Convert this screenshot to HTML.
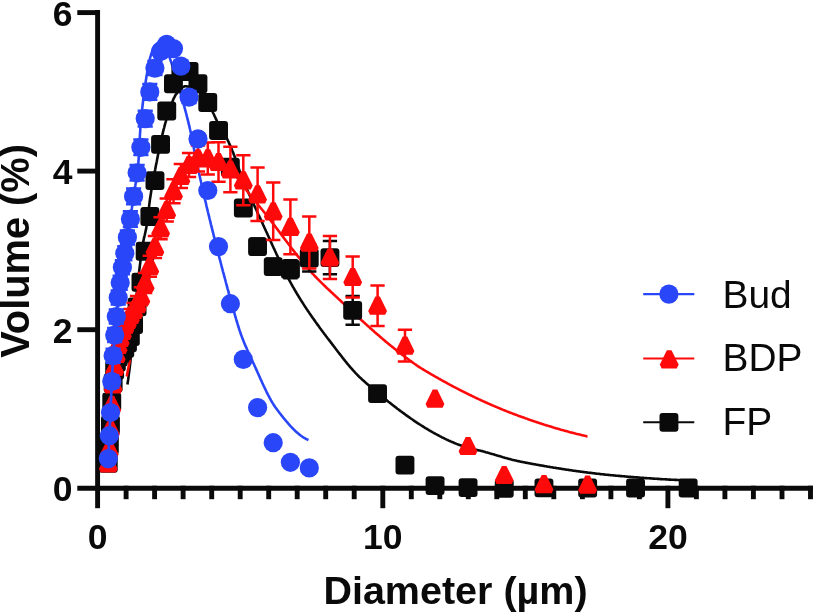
<!DOCTYPE html>
<html><head><meta charset="utf-8"><title>Particle size distribution</title>
<style>
html,body{margin:0;padding:0;background:#fff;}
body{width:813px;height:613px;position:relative;overflow:hidden;font-family:"Liberation Sans",sans-serif;}
</style></head><body>
<svg width="813" height="613" viewBox="0 0 813 613" style="position:absolute;left:0;top:0;will-change:transform;opacity:0.999">
<g stroke="#0a0a0a" stroke-width="4.9" fill="none"><path d="M97.6,10.1V490.7"/><path d="M77.3,488.2H813"/><path d="M77.3,329.7H97.6"/><path d="M77.3,171.1H97.6"/><path d="M77.3,12.6H97.6"/><path d="M97.6,485.75V508.2"/><path d="M126.1,485.75V499.2"/><path d="M154.6,485.75V499.2"/><path d="M183.1,485.75V499.2"/><path d="M211.7,485.75V499.2"/><path d="M240.2,485.75V499.2"/><path d="M268.7,485.75V499.2"/><path d="M297.2,485.75V499.2"/><path d="M325.7,485.75V499.2"/><path d="M354.2,485.75V499.2"/><path d="M382.8,485.75V508.2"/><path d="M411.3,485.75V499.2"/><path d="M439.8,485.75V499.2"/><path d="M468.3,485.75V499.2"/><path d="M496.8,485.75V499.2"/><path d="M525.3,485.75V499.2"/><path d="M553.8,485.75V499.2"/><path d="M582.4,485.75V499.2"/><path d="M610.9,485.75V499.2"/><path d="M639.4,485.75V499.2"/><path d="M667.9,485.75V508.2"/><path d="M696.4,485.75V499.2"/><path d="M724.9,485.75V499.2"/><path d="M753.4,485.75V499.2"/><path d="M782.0,485.75V499.2"/><path d="M810.5,485.75V499.2"/></g>
<path d="M127.4,384.5 L128.2,379.4 L128.9,373.9 L129.7,367.9 L130.4,361.5 L131.2,354.5 L131.9,346.5 L132.7,337.9 L133.4,328.9 L134.2,320.0 L134.9,311.4 L135.7,303.4 L136.4,296.2 L137.2,289.3 L137.9,282.4 L138.7,275.7 L139.4,269.3 L140.2,263.1 L140.9,257.3 L141.7,251.8 L142.4,246.8 L143.2,242.2 L143.9,238.4 L144.7,235.2 L145.4,232.0 L146.2,228.4 L146.9,223.9 L147.7,218.2 L148.4,211.8 L149.2,205.4 L149.9,199.7 L150.7,194.8 L151.4,190.1 L152.2,185.7 L152.9,181.4 L153.7,177.3 L154.4,173.3 L155.2,169.4 L155.9,165.5 L156.7,161.7 L157.4,157.9 L158.2,154.1 L158.9,150.4 L159.7,146.8 L160.4,143.3 L161.2,139.9 L161.9,136.6 L162.7,133.4 L163.4,130.4 L164.2,127.5 L164.9,124.6 L165.7,121.9 L166.4,119.2 L167.2,116.7 L167.9,114.2 L168.7,111.9 L169.4,109.7 L170.2,107.6 L170.9,105.6 L171.7,103.6 L172.4,101.7 L173.2,99.8 L173.9,98.1 L174.7,96.6 L175.4,95.2 L176.2,94.1 L176.9,93.2 L177.7,92.2 L178.4,91.3 L179.2,90.4 L179.9,89.6 L180.7,88.9 L181.4,88.2 L182.2,87.6 L182.9,87.1 L183.7,86.7 L184.4,86.4 L185.2,86.3 L185.9,86.3 L186.7,86.4 L187.4,86.5 L188.2,86.6 L188.9,86.8 L189.7,87.0 L190.4,87.2 L191.2,87.4 L191.9,87.7 L192.7,88.0 L193.4,88.3 L194.2,88.6 L194.9,89.0 L195.7,89.3 L196.4,89.8 L197.2,90.3 L197.9,90.9 L198.7,91.6 L199.4,92.3 L200.2,93.1 L200.9,94.0 L201.7,94.8 L202.4,95.7 L203.2,96.7 L203.9,97.6 L204.7,98.6 L205.4,99.5 L206.2,100.6 L206.9,101.7 L207.7,102.9 L208.4,104.2 L209.2,105.5 L209.9,106.8 L210.7,108.2 L211.4,109.6 L212.2,111.0 L212.9,112.5 L213.7,114.0 L214.4,115.6 L215.2,117.3 L215.9,118.9 L216.7,120.5 L217.4,122.0 L218.2,123.4 L218.9,124.8 L219.7,126.1 L220.4,127.3 L221.2,128.6 L221.9,129.8 L222.7,131.1 L223.4,132.3 L224.2,133.6 L224.9,134.9 L225.7,136.2 L226.4,137.6 L227.2,139.1 L227.9,140.6 L228.7,142.2 L229.4,143.9 L230.2,145.6 L230.9,147.3 L231.7,149.1 L232.4,150.9 L233.2,152.8 L233.9,154.7 L234.7,156.7 L235.4,158.6 L236.2,160.6 L236.9,162.7 L237.7,165.0 L238.4,167.3 L239.2,169.6 L239.9,171.7 L240.7,173.6 L241.4,175.6 L242.2,177.5 L242.9,179.4 L243.7,181.3 L244.4,183.1 L245.2,184.9 L245.9,186.7 L246.7,188.5 L247.4,190.2 L248.2,192.0 L248.9,193.7 L249.7,195.4 L250.4,197.1 L251.2,198.7 L251.9,200.4 L252.7,202.0 L253.4,203.7 L254.2,205.3 L254.9,206.9 L255.7,208.5 L256.4,210.1 L257.1,211.8 L257.9,213.4 L258.6,215.0 L259.4,216.6 L260.1,218.2 L260.9,219.8 L261.6,221.5 L262.4,223.1 L263.1,224.7 L263.9,226.4 L264.6,228.0 L265.4,229.7 L266.1,231.3 L266.9,233.0 L267.6,234.6 L268.4,236.3 L269.1,237.9 L269.9,239.6 L270.6,241.2 L271.4,242.9 L272.1,244.5 L272.9,246.2 L273.6,247.8 L274.4,249.4 L275.1,251.0 L275.9,252.7 L276.6,254.3 L277.4,255.9 L278.1,257.5 L278.9,259.1 L279.6,260.7 L280.4,262.2 L281.1,263.8 L281.9,265.4 L282.6,266.9 L283.4,268.5 L284.1,270.0 L284.9,271.5 L285.6,273.0 L286.4,274.5 L287.1,275.9 L287.9,277.4 L288.6,278.8 L289.4,280.3 L290.1,281.7 L290.9,283.1 L291.6,284.4 L292.4,285.8 L293.1,287.1 L293.9,288.4 L294.6,289.7 L295.4,291.0 L296.1,292.3 L296.9,293.6 L297.6,294.8 L298.4,296.0 L299.1,297.3 L299.9,298.5 L300.6,299.7 L301.4,300.9 L302.1,302.1 L302.9,303.2 L303.6,304.4 L304.4,305.6 L305.1,306.7 L305.9,307.9 L306.6,309.0 L307.4,310.1 L308.1,311.2 L308.9,312.3 L309.6,313.4 L310.4,314.5 L311.1,315.6 L311.9,316.7 L312.6,317.8 L313.4,318.8 L314.1,319.9 L314.9,320.9 L315.6,322.0 L316.4,323.0 L317.1,324.1 L317.9,325.1 L318.6,326.1 L319.4,327.2 L320.1,328.2 L320.9,329.2 L321.6,330.2 L322.4,331.2 L323.1,332.2 L323.9,333.2 L324.6,334.2 L325.4,335.2 L326.1,336.2 L326.9,337.2 L327.6,338.2 L328.4,339.2 L329.1,340.1 L329.9,341.1 L330.6,342.1 L331.4,343.1 L332.1,344.1 L332.9,345.1 L333.6,346.0 L334.4,347.0 L335.1,348.0 L335.9,349.0 L336.6,350.0 L337.4,351.0 L338.1,352.0 L338.9,352.9 L339.6,353.9 L340.4,354.9 L341.1,355.8 L341.9,356.8 L342.6,357.8 L343.4,358.7 L344.1,359.7 L344.9,360.6 L345.6,361.5 L346.4,362.4 L347.1,363.4 L347.9,364.3 L348.6,365.2 L349.4,366.1 L350.1,367.0 L350.9,367.8 L351.6,368.7 L352.4,369.5 L353.1,370.4 L353.9,371.2 L354.6,372.0 L355.4,372.9 L356.1,373.6 L356.9,374.4 L357.6,375.2 L358.4,376.0 L359.1,376.7 L359.9,377.4 L360.6,378.1 L361.4,378.8 L362.1,379.5 L362.9,380.2 L363.6,380.8 L364.4,381.5 L365.1,382.2 L365.9,382.8 L366.6,383.5 L367.4,384.1 L368.1,384.8 L368.9,385.4 L369.6,386.1 L370.4,386.7 L371.1,387.3 L371.9,388.0 L372.6,388.6 L373.4,389.3 L374.1,389.9 L374.9,390.5 L375.6,391.2 L376.4,391.8 L377.1,392.4 L377.9,393.1 L378.6,393.7 L379.4,394.3 L380.1,394.9 L380.9,395.6 L381.6,396.2 L382.4,396.8 L383.1,397.4 L383.9,398.0 L384.6,398.6 L385.4,399.2 L386.1,399.8 L386.9,400.4 L387.6,401.1 L388.4,401.7 L389.1,402.2 L389.9,402.8 L390.6,403.4 L391.4,404.0 L392.1,404.6 L392.9,405.2 L393.6,405.8 L394.4,406.4 L395.1,406.9 L395.9,407.5 L396.6,408.1 L397.4,408.7 L398.1,409.2 L398.9,409.8 L399.6,410.4 L400.4,410.9 L401.1,411.5 L401.9,412.0 L402.6,412.6 L403.4,413.1 L404.1,413.7 L404.9,414.2 L405.6,414.8 L406.4,415.3 L407.1,415.9 L407.9,416.4 L408.6,416.9 L409.4,417.4 L410.1,418.0 L410.9,418.5 L411.6,419.0 L412.4,419.5 L413.1,420.0 L413.9,420.6 L414.6,421.1 L415.4,421.6 L416.1,422.1 L416.9,422.6 L417.6,423.1 L418.4,423.6 L419.1,424.0 L419.9,424.5 L420.6,425.0 L421.4,425.5 L422.1,426.0 L422.9,426.4 L423.6,426.9 L424.4,427.4 L425.1,427.8 L425.9,428.3 L426.6,428.7 L427.4,429.2 L428.1,429.6 L428.9,430.1 L429.6,430.5 L430.4,431.0 L431.1,431.4 L431.9,431.8 L432.6,432.3 L433.4,432.7 L434.1,433.1 L434.9,433.5 L435.6,433.9 L436.4,434.3 L437.1,434.7 L437.9,435.1 L438.6,435.5 L439.4,435.9 L440.1,436.3 L440.9,436.7 L441.6,437.1 L442.4,437.5 L443.1,437.8 L443.9,438.2 L444.6,438.6 L445.4,438.9 L446.1,439.3 L446.9,439.7 L447.6,440.0 L448.4,440.4 L449.1,440.7 L449.9,441.0 L450.6,441.4 L451.4,441.7 L452.1,442.0 L452.9,442.3 L453.6,442.6 L454.4,443.0 L455.1,443.3 L455.9,443.6 L456.6,443.9 L457.4,444.2 L458.1,444.5 L458.9,444.7 L459.6,445.0 L460.4,445.3 L461.1,445.6 L461.9,445.8 L462.6,446.1 L463.4,446.4 L464.1,446.6 L464.9,446.9 L465.6,447.1 L466.4,447.3 L467.1,447.6 L467.9,447.8 L468.6,448.0 L469.4,448.2 L470.1,448.4 L470.9,448.6 L471.6,448.8 L472.4,449.0 L473.1,449.1 L473.9,449.3 L474.6,449.4 L475.4,449.6 L476.1,449.7 L476.9,449.9 L477.6,450.1 L478.4,450.2 L479.1,450.4 L479.9,450.6 L480.6,450.8 L481.4,451.0 L482.1,451.1 L482.9,451.3 L483.6,451.5 L484.4,451.7 L485.1,451.9 L485.9,452.2 L486.6,452.4 L487.4,452.6 L488.1,452.8 L488.9,453.0 L489.6,453.2 L490.4,453.4 L491.1,453.7 L491.9,453.9 L492.6,454.1 L493.4,454.3 L494.1,454.5 L494.9,454.8 L495.6,455.0 L496.4,455.2 L497.1,455.4 L497.9,455.7 L498.6,455.9 L499.4,456.1 L500.1,456.3 L500.9,456.6 L501.6,456.8 L502.4,457.0 L503.1,457.2 L503.9,457.4 L504.6,457.7 L505.4,457.9 L506.1,458.1 L506.9,458.3 L507.6,458.5 L508.4,458.7 L509.1,458.9 L509.9,459.1 L510.6,459.3 L511.4,459.5 L512.1,459.7 L512.9,459.9 L513.6,460.1 L514.4,460.3 L515.1,460.4 L515.9,460.6 L516.6,460.8 L517.4,461.0 L518.1,461.1 L518.9,461.3 L519.6,461.4 L520.4,461.6 L521.1,461.7 L521.9,461.9 L522.6,462.0 L523.4,462.2 L524.1,462.3 L524.9,462.5 L525.6,462.6 L526.4,462.7 L527.1,462.9 L527.9,463.0 L528.6,463.2 L529.4,463.3 L530.1,463.5 L530.9,463.6 L531.6,463.7 L532.4,463.9 L533.1,464.0 L533.9,464.2 L534.6,464.3 L535.4,464.4 L536.1,464.6 L536.9,464.7 L537.6,464.8 L538.4,465.0 L539.1,465.1 L539.9,465.2 L540.6,465.4 L541.4,465.5 L542.1,465.6 L542.9,465.8 L543.6,465.9 L544.4,466.0 L545.1,466.2 L545.9,466.3 L546.6,466.4 L547.4,466.6 L548.1,466.7 L548.9,466.8 L549.6,466.9 L550.4,467.1 L551.1,467.2 L551.9,467.3 L552.6,467.4 L553.4,467.6 L554.1,467.7 L554.9,467.8 L555.6,467.9 L556.4,468.0 L557.1,468.2 L557.9,468.3 L558.6,468.4 L559.4,468.5 L560.1,468.6 L560.9,468.8 L561.6,468.9 L562.4,469.0 L563.1,469.1 L563.9,469.2 L564.6,469.3 L565.4,469.5 L566.1,469.6 L566.9,469.7 L567.6,469.8 L568.4,469.9 L569.1,470.0 L569.9,470.1 L570.6,470.2 L571.4,470.3 L572.1,470.5 L572.9,470.6 L573.6,470.7 L574.4,470.8 L575.1,470.9 L575.9,471.0 L576.6,471.1 L577.4,471.2 L578.1,471.3 L578.9,471.4 L579.6,471.5 L580.4,471.6 L581.1,471.7 L581.9,471.8 L582.6,471.9 L583.4,472.0 L584.1,472.1 L584.9,472.2 L585.6,472.3 L586.4,472.4 L587.1,472.5 L587.9,472.6 L588.6,472.7 L589.4,472.8 L590.1,472.9 L590.9,472.9 L591.6,473.0 L592.4,473.1 L593.1,473.2 L593.9,473.3 L594.6,473.4 L595.4,473.5 L596.1,473.6 L596.9,473.7 L597.6,473.7 L598.4,473.8 L599.1,473.9 L599.9,474.0 L600.6,474.1 L601.4,474.2 L602.1,474.3 L602.9,474.3 L603.6,474.4 L604.4,474.5 L605.1,474.6 L605.9,474.7 L606.6,474.7 L607.4,474.8 L608.1,474.9 L608.9,475.0 L609.6,475.0 L610.4,475.1 L611.1,475.2 L611.9,475.3 L612.6,475.3 L613.4,475.4 L614.1,475.5 L614.9,475.5 L615.6,475.6 L616.4,475.7 L617.1,475.7 L617.9,475.8 L618.6,475.9 L619.4,475.9 L620.1,476.0 L620.9,476.1 L621.6,476.1 L622.4,476.2 L623.1,476.3 L623.9,476.3 L624.6,476.4 L625.4,476.5 L626.1,476.5 L626.9,476.6 L627.6,476.7 L628.4,476.7 L629.1,476.8 L629.9,476.8 L630.6,476.9 L631.4,477.0 L632.1,477.0 L632.9,477.1 L633.6,477.1 L634.4,477.2 L635.1,477.3 L635.9,477.3 L636.6,477.4 L637.4,477.4 L638.1,477.5 L638.9,477.6 L639.6,477.6 L640.4,477.7 L641.1,477.7 L641.9,477.8 L642.6,477.8 L643.4,477.9 L644.1,478.0 L644.9,478.0 L645.6,478.1 L646.4,478.1 L647.1,478.2 L647.9,478.2 L648.6,478.3 L649.4,478.3 L650.1,478.4 L650.9,478.4 L651.6,478.5 L652.4,478.5 L653.1,478.6 L653.9,478.6 L654.6,478.7 L655.4,478.7 L656.1,478.8 L656.9,478.8 L657.6,478.9 L658.4,478.9 L659.1,479.0 L659.9,479.0 L660.6,479.1 L661.4,479.1 L662.1,479.2 L662.9,479.2 L663.6,479.3 L664.4,479.3 L665.1,479.3 L665.9,479.4 L666.6,479.4 L667.4,479.5 L668.1,479.5 L668.9,479.6 L669.6,479.6 L670.4,479.6 L671.1,479.7 L671.9,479.7 L672.6,479.7 L673.4,479.8 L674.1,479.8 L674.9,479.9 L675.6,479.9 L676.4,479.9 L677.1,480.0 L677.9,480.0 L678.6,480.0 L679.4,480.1 L680.1,480.1 L680.9,480.1 L681.6,480.2 L682.4,480.2 L683.1,480.2 L683.9,480.2 L684.6,480.3 L685.4,480.3 L686.1,480.3 L686.9,480.3 L687.6,480.4 L688.4,480.4 L688.7,480.4" fill="none" stroke="#0a0a0a" stroke-width="2.6" stroke-linejoin="round"/>
<path d="M126.8,376.5 L127.5,372.3 L128.3,368.2 L129.1,364.1 L129.8,360.2 L130.6,356.4 L131.3,352.7 L132.1,349.0 L132.8,345.4 L133.6,341.9 L134.3,338.3 L135.1,334.8 L135.8,331.2 L136.6,327.6 L137.3,324.1 L138.1,320.5 L138.8,317.0 L139.6,313.6 L140.3,310.1 L141.1,306.8 L141.8,303.5 L142.6,300.2 L143.3,296.9 L144.1,293.7 L144.8,290.5 L145.6,287.3 L146.3,284.2 L147.1,281.1 L147.8,277.9 L148.6,274.8 L149.3,271.7 L150.1,268.5 L150.8,265.4 L151.6,262.2 L152.3,259.0 L153.1,255.9 L153.8,252.9 L154.6,250.0 L155.3,247.1 L156.1,244.4 L156.8,241.6 L157.6,239.0 L158.3,236.4 L159.1,233.8 L159.8,231.3 L160.6,228.8 L161.3,226.4 L162.1,223.9 L162.8,221.5 L163.6,219.2 L164.3,216.8 L165.1,214.6 L165.8,212.3 L166.6,210.1 L167.3,208.0 L168.1,205.9 L168.8,203.8 L169.6,201.7 L170.3,199.7 L171.1,197.8 L171.8,195.8 L172.6,194.0 L173.3,192.2 L174.1,190.5 L174.8,188.8 L175.6,187.2 L176.3,185.6 L177.1,184.0 L177.8,182.5 L178.6,181.0 L179.3,179.6 L180.1,178.3 L180.8,177.0 L181.6,175.8 L182.3,174.6 L183.1,173.4 L183.8,172.3 L184.6,171.2 L185.3,170.2 L186.1,169.2 L186.8,168.3 L187.6,167.4 L188.3,166.6 L189.1,165.9 L189.8,165.1 L190.6,164.4 L191.3,163.8 L192.1,163.1 L192.8,162.5 L193.6,161.9 L194.3,161.3 L195.1,160.8 L195.8,160.4 L196.6,160.0 L197.3,159.7 L198.1,159.5 L198.8,159.3 L199.6,159.1 L200.3,158.9 L201.1,158.8 L201.8,158.6 L202.6,158.5 L203.3,158.4 L204.1,158.3 L204.8,158.2 L205.6,158.1 L206.3,158.0 L207.1,158.0 L207.8,158.0 L208.6,158.0 L209.3,158.1 L210.1,158.3 L210.8,158.4 L211.6,158.6 L212.3,158.9 L213.1,159.2 L213.8,159.4 L214.6,159.8 L215.3,160.1 L216.1,160.4 L216.8,160.8 L217.6,161.1 L218.3,161.5 L219.1,161.8 L219.8,162.2 L220.6,162.6 L221.3,163.0 L222.1,163.5 L222.8,164.0 L223.6,164.5 L224.3,165.0 L225.1,165.6 L225.8,166.2 L226.6,166.8 L227.3,167.4 L228.1,168.0 L228.8,168.7 L229.6,169.3 L230.3,170.0 L231.1,170.7 L231.8,171.4 L232.6,172.2 L233.3,173.0 L234.1,173.9 L234.8,174.8 L235.6,175.7 L236.3,176.7 L237.1,177.6 L237.8,178.6 L238.6,179.6 L239.3,180.6 L240.1,181.6 L240.8,182.7 L241.6,183.7 L242.3,184.7 L243.1,185.8 L243.8,186.8 L244.6,187.8 L245.3,188.8 L246.1,189.8 L246.8,190.7 L247.6,191.7 L248.3,192.6 L249.1,193.5 L249.8,194.5 L250.6,195.4 L251.3,196.3 L252.1,197.3 L252.8,198.2 L253.6,199.1 L254.3,200.0 L255.1,201.0 L255.8,201.9 L256.6,202.8 L257.3,203.7 L258.1,204.7 L258.8,205.6 L259.6,206.5 L260.3,207.5 L261.1,208.4 L261.8,209.3 L262.6,210.3 L263.3,211.2 L264.1,212.1 L264.8,213.1 L265.6,214.0 L266.3,215.0 L267.1,215.9 L267.8,216.9 L268.6,217.8 L269.3,218.8 L270.1,219.8 L270.8,220.7 L271.6,221.7 L272.3,222.7 L273.1,223.7 L273.8,224.6 L274.6,225.6 L275.3,226.6 L276.1,227.6 L276.8,228.6 L277.6,229.6 L278.3,230.6 L279.1,231.6 L279.8,232.6 L280.6,233.6 L281.3,234.6 L282.1,235.6 L282.8,236.6 L283.6,237.6 L284.3,238.6 L285.1,239.6 L285.8,240.6 L286.6,241.5 L287.3,242.5 L288.1,243.5 L288.8,244.5 L289.6,245.5 L290.3,246.5 L291.1,247.5 L291.8,248.5 L292.6,249.4 L293.3,250.4 L294.1,251.4 L294.8,252.3 L295.6,253.3 L296.3,254.3 L297.1,255.2 L297.8,256.2 L298.6,257.1 L299.3,258.0 L300.1,259.0 L300.8,259.9 L301.6,260.8 L302.3,261.8 L303.1,262.7 L303.8,263.6 L304.6,264.5 L305.3,265.4 L306.1,266.2 L306.8,267.1 L307.6,268.0 L308.3,268.9 L309.1,269.7 L309.8,270.6 L310.6,271.4 L311.3,272.2 L312.1,273.1 L312.8,273.9 L313.6,274.7 L314.3,275.5 L315.1,276.3 L315.8,277.1 L316.6,277.8 L317.3,278.6 L318.1,279.4 L318.8,280.1 L319.6,280.9 L320.3,281.6 L321.1,282.4 L321.8,283.1 L322.6,283.9 L323.3,284.6 L324.1,285.3 L324.8,286.1 L325.6,286.8 L326.3,287.5 L327.1,288.2 L327.8,288.9 L328.6,289.6 L329.3,290.3 L330.1,291.0 L330.8,291.7 L331.6,292.4 L332.3,293.1 L333.1,293.8 L333.8,294.5 L334.6,295.2 L335.3,295.9 L336.1,296.6 L336.8,297.3 L337.6,298.0 L338.3,298.7 L339.1,299.4 L339.8,300.1 L340.6,300.8 L341.3,301.5 L342.1,302.2 L342.8,302.9 L343.6,303.6 L344.3,304.3 L345.1,305.0 L345.8,305.7 L346.6,306.4 L347.3,307.1 L348.1,307.8 L348.8,308.5 L349.6,309.2 L350.3,309.9 L351.1,310.6 L351.8,311.3 L352.6,312.0 L353.3,312.7 L354.1,313.4 L354.8,314.1 L355.6,314.7 L356.3,315.4 L357.1,316.1 L357.8,316.8 L358.6,317.5 L359.3,318.2 L360.1,318.9 L360.8,319.6 L361.6,320.3 L362.3,320.9 L363.1,321.6 L363.8,322.3 L364.6,323.0 L365.3,323.7 L366.1,324.3 L366.8,325.0 L367.6,325.7 L368.3,326.4 L369.1,327.0 L369.8,327.7 L370.6,328.4 L371.3,329.0 L372.1,329.7 L372.8,330.4 L373.6,331.0 L374.3,331.7 L375.1,332.4 L375.8,333.0 L376.6,333.7 L377.3,334.3 L378.1,335.0 L378.8,335.6 L379.6,336.3 L380.3,336.9 L381.1,337.6 L381.8,338.2 L382.6,338.8 L383.3,339.5 L384.1,340.1 L384.8,340.7 L385.6,341.4 L386.3,342.0 L387.1,342.6 L387.8,343.3 L388.6,343.9 L389.3,344.5 L390.1,345.1 L390.8,345.7 L391.6,346.3 L392.3,346.9 L393.1,347.5 L393.8,348.1 L394.6,348.7 L395.3,349.3 L396.1,349.9 L396.8,350.5 L397.6,351.1 L398.3,351.7 L399.1,352.3 L399.8,352.9 L400.6,353.4 L401.3,354.0 L402.1,354.6 L402.8,355.2 L403.6,355.7 L404.3,356.3 L405.1,356.9 L405.8,357.5 L406.6,358.0 L407.3,358.6 L408.1,359.1 L408.8,359.7 L409.6,360.3 L410.3,360.8 L411.1,361.4 L411.8,361.9 L412.6,362.4 L413.3,363.0 L414.1,363.5 L414.8,364.0 L415.6,364.5 L416.3,365.1 L417.1,365.6 L417.8,366.1 L418.6,366.6 L419.3,367.1 L420.1,367.5 L420.8,368.0 L421.6,368.5 L422.3,369.0 L423.1,369.4 L423.8,369.9 L424.6,370.3 L425.3,370.8 L426.1,371.2 L426.8,371.7 L427.6,372.1 L428.3,372.5 L429.1,373.0 L429.8,373.4 L430.6,373.9 L431.3,374.3 L432.1,374.7 L432.8,375.2 L433.6,375.6 L434.3,376.0 L435.1,376.5 L435.8,376.9 L436.6,377.3 L437.3,377.7 L438.1,378.2 L438.8,378.6 L439.6,379.0 L440.3,379.4 L441.1,379.8 L441.8,380.3 L442.6,380.7 L443.3,381.1 L444.1,381.5 L444.8,381.9 L445.6,382.3 L446.3,382.7 L447.1,383.2 L447.8,383.6 L448.6,384.0 L449.3,384.4 L450.1,384.8 L450.8,385.2 L451.6,385.6 L452.3,386.0 L453.1,386.4 L453.8,386.8 L454.6,387.2 L455.3,387.6 L456.1,387.9 L456.8,388.3 L457.6,388.7 L458.3,389.1 L459.1,389.5 L459.8,389.9 L460.6,390.3 L461.3,390.7 L462.1,391.0 L462.8,391.4 L463.6,391.8 L464.3,392.2 L465.1,392.5 L465.8,392.9 L466.6,393.3 L467.3,393.7 L468.1,394.0 L468.8,394.4 L469.6,394.8 L470.3,395.1 L471.1,395.5 L471.8,395.9 L472.6,396.2 L473.3,396.6 L474.1,396.9 L474.8,397.3 L475.6,397.7 L476.3,398.0 L477.1,398.4 L477.8,398.7 L478.6,399.1 L479.3,399.4 L480.1,399.8 L480.8,400.1 L481.6,400.5 L482.3,400.8 L483.1,401.2 L483.8,401.5 L484.6,401.8 L485.3,402.2 L486.1,402.5 L486.8,402.8 L487.6,403.2 L488.3,403.5 L489.1,403.8 L489.8,404.2 L490.6,404.5 L491.3,404.8 L492.1,405.2 L492.8,405.5 L493.6,405.8 L494.3,406.1 L495.1,406.4 L495.8,406.8 L496.6,407.1 L497.3,407.4 L498.1,407.7 L498.8,408.0 L499.6,408.3 L500.3,408.7 L501.1,409.0 L501.8,409.3 L502.6,409.6 L503.3,409.9 L504.1,410.2 L504.8,410.5 L505.6,410.8 L506.3,411.1 L507.1,411.4 L507.8,411.7 L508.6,412.0 L509.3,412.3 L510.1,412.6 L510.8,412.9 L511.6,413.1 L512.3,413.4 L513.0,413.7 L513.8,414.0 L514.5,414.3 L515.3,414.6 L516.0,414.8 L516.8,415.1 L517.5,415.4 L518.3,415.7 L519.0,416.0 L519.8,416.2 L520.5,416.5 L521.3,416.8 L522.0,417.0 L522.8,417.3 L523.5,417.6 L524.3,417.8 L525.0,418.1 L525.8,418.4 L526.5,418.6 L527.3,418.9 L528.0,419.2 L528.8,419.4 L529.5,419.7 L530.3,420.0 L531.0,420.2 L531.8,420.5 L532.5,420.7 L533.3,421.0 L534.0,421.2 L534.8,421.5 L535.5,421.7 L536.3,422.0 L537.0,422.2 L537.8,422.5 L538.5,422.7 L539.3,423.0 L540.0,423.2 L540.8,423.5 L541.5,423.7 L542.3,424.0 L543.0,424.2 L543.8,424.5 L544.5,424.7 L545.3,424.9 L546.0,425.2 L546.8,425.4 L547.5,425.6 L548.3,425.9 L549.0,426.1 L549.8,426.3 L550.5,426.6 L551.3,426.8 L552.0,427.0 L552.8,427.3 L553.5,427.5 L554.3,427.7 L555.0,427.9 L555.8,428.2 L556.5,428.4 L557.3,428.6 L558.0,428.8 L558.8,429.0 L559.5,429.3 L560.3,429.5 L561.0,429.7 L561.8,429.9 L562.5,430.1 L563.3,430.3 L564.0,430.5 L564.8,430.7 L565.5,430.9 L566.3,431.1 L567.0,431.3 L567.8,431.6 L568.5,431.8 L569.3,432.0 L570.0,432.2 L570.8,432.4 L571.5,432.5 L572.3,432.7 L573.0,432.9 L573.8,433.1 L574.5,433.3 L575.3,433.5 L576.0,433.7 L576.8,433.9 L577.5,434.1 L578.3,434.3 L579.0,434.4 L579.8,434.6 L580.5,434.8 L581.3,435.0 L582.0,435.2 L582.8,435.3 L583.5,435.5 L584.3,435.7 L585.0,435.8 L585.8,436.0 L586.5,436.2 L587.3,436.4 L587.5,436.4" fill="none" stroke="#ff0a0a" stroke-width="2.6" stroke-linejoin="round"/>
<path d="M108.3,458.6 L109.0,442.0 L109.8,426.6 L110.5,411.2 L111.3,392.3 L112.0,375.4 L112.8,361.3 L113.5,349.5 L114.3,339.5 L115.0,330.5 L115.8,322.2 L116.5,314.2 L117.3,305.9 L118.0,298.4 L118.8,292.3 L119.5,287.0 L120.3,281.7 L121.0,276.3 L121.8,271.0 L122.5,266.1 L123.3,261.6 L124.0,257.4 L124.8,253.2 L125.5,248.8 L126.3,244.3 L127.0,239.8 L127.8,235.3 L128.5,230.6 L129.3,225.9 L130.0,221.1 L130.8,216.1 L131.5,210.9 L132.3,205.5 L133.0,200.1 L133.8,194.8 L134.5,190.1 L135.3,185.8 L136.0,181.4 L136.8,176.6 L137.5,170.9 L138.3,163.9 L139.0,153.6 L139.8,137.2 L140.5,126.5 L141.3,117.8 L142.0,110.3 L142.8,103.5 L143.5,97.1 L144.3,91.3 L145.0,85.9 L145.8,81.0 L146.5,76.4 L147.3,72.0 L148.0,67.8 L148.8,63.9 L149.5,60.4 L150.3,57.3 L151.0,54.8 L151.8,52.5 L152.5,50.3 L153.3,48.4 L154.0,46.9 L154.8,45.7 L155.5,44.9 L156.3,44.2 L157.0,43.6 L157.8,43.0 L158.5,42.7 L159.3,42.5 L160.0,42.6 L160.8,42.8 L161.5,43.3 L162.3,43.8 L163.0,44.5 L163.8,45.3 L164.5,46.1 L165.3,47.1 L166.0,48.4 L166.8,50.1 L167.5,52.0 L168.3,54.0 L169.0,56.1 L169.8,58.1 L170.5,60.2 L171.3,62.3 L172.0,64.5 L172.8,66.8 L173.5,69.2 L174.3,71.7 L175.0,74.2 L175.8,76.7 L176.5,79.2 L177.3,81.7 L178.0,84.2 L178.8,86.7 L179.5,89.3 L180.3,91.9 L181.0,94.6 L181.8,97.3 L182.5,100.0 L183.3,102.8 L184.0,105.5 L184.8,108.4 L185.5,111.2 L186.3,114.0 L187.0,116.9 L187.8,119.9 L188.5,122.9 L189.3,126.1 L190.0,129.3 L190.8,132.6 L191.5,136.2 L192.3,140.1 L193.0,144.1 L193.8,148.0 L194.5,151.7 L195.3,155.4 L196.0,159.0 L196.8,162.5 L197.5,166.1 L198.3,169.6 L199.0,173.0 L199.8,176.4 L200.5,179.8 L201.3,183.2 L202.0,186.5 L202.8,189.9 L203.5,193.1 L204.3,196.4 L205.0,199.6 L205.8,202.8 L206.5,206.0 L207.3,209.2 L208.0,212.3 L208.8,215.4 L209.5,218.5 L210.3,221.5 L211.0,224.6 L211.8,227.6 L212.5,230.7 L213.3,233.7 L214.0,236.7 L214.8,239.7 L215.5,242.6 L216.3,245.6 L217.0,248.5 L217.8,251.5 L218.5,254.4 L219.3,257.3 L220.0,260.2 L220.8,263.0 L221.5,265.9 L222.3,268.8 L223.0,271.6 L223.8,274.4 L224.5,277.2 L225.3,280.0 L226.0,282.8 L226.8,285.6 L227.5,288.3 L228.3,291.1 L229.0,293.8 L229.8,296.5 L230.5,299.3 L231.3,302.0 L232.0,304.7 L232.8,307.4 L233.5,310.1 L234.3,312.7 L235.0,315.4 L235.8,318.0 L236.5,320.5 L237.3,323.0 L238.0,325.5 L238.8,327.8 L239.5,330.1 L240.3,332.4 L241.0,334.5 L241.8,336.6 L242.5,338.6 L243.3,340.5 L244.0,342.4 L244.8,344.2 L245.5,345.9 L246.3,347.6 L247.0,349.3 L247.8,351.0 L248.5,352.6 L249.3,354.3 L250.0,355.9 L250.8,357.5 L251.5,359.1 L252.3,360.7 L253.0,362.3 L253.8,364.0 L254.5,365.6 L255.3,367.3 L256.0,368.9 L256.8,370.6 L257.5,372.3 L258.3,374.0 L259.0,375.6 L259.8,377.3 L260.5,379.0 L261.3,380.6 L262.0,382.3 L262.8,383.9 L263.5,385.5 L264.3,387.1 L265.0,388.7 L265.8,390.2 L266.5,391.8 L267.3,393.3 L268.0,394.8 L268.8,396.2 L269.5,397.6 L270.3,399.0 L271.0,400.4 L271.8,401.7 L272.5,402.9 L273.3,404.1 L274.0,405.3 L274.8,406.4 L275.5,407.5 L276.3,408.5 L277.0,409.5 L277.8,410.5 L278.5,411.5 L279.3,412.5 L280.0,413.5 L280.8,414.4 L281.5,415.4 L282.3,416.3 L283.0,417.3 L283.8,418.2 L284.5,419.1 L285.3,420.0 L286.0,420.9 L286.8,421.8 L287.5,422.7 L288.3,423.6 L289.0,424.4 L289.8,425.3 L290.5,426.1 L291.3,426.9 L292.0,427.7 L292.8,428.4 L293.5,429.2 L294.3,429.9 L295.0,430.7 L295.8,431.4 L296.5,432.1 L297.3,432.7 L298.0,433.4 L298.8,434.0 L299.5,434.6 L300.3,435.2 L301.0,435.7 L301.8,436.3 L302.5,436.8 L303.3,437.3 L304.0,437.8 L304.8,438.2 L305.5,438.6 L306.3,439.0 L307.0,439.4 L307.8,439.7 L308.5,440.0" fill="none" stroke="#2947f8" stroke-width="2.6" stroke-linejoin="round"/>
<path d="M113.1,376.0V390.0M106.0,376.0h14.3M106.0,390.0h14.3M114.7,363.0V377.0M107.5,363.0h14.3M107.5,377.0h14.3M116.3,355.0V369.0M109.2,355.0h14.3M109.2,369.0h14.3M118.2,350.0V364.0M111.0,350.0h14.3M111.0,364.0h14.3M120.2,346.5V360.5M113.0,346.5h14.3M113.0,360.5h14.3M122.4,343.8V357.8M115.2,343.8h14.3M115.2,357.8h14.3M124.8,341.3V355.3M117.6,341.3h14.3M117.6,355.3h14.3M127.4,335.9V349.9M120.3,335.9h14.3M120.3,349.9h14.3M130.4,330.5V342.5M123.2,330.5h14.3M123.2,342.5h14.3M133.6,319.7V329.7M126.4,319.7h14.3M126.4,329.7h14.3M137.1,302.9V310.9M129.9,302.9h14.3M129.9,310.9h14.3M140.9,279.2V285.2M133.8,279.2h14.3M133.8,285.2h14.3M145.2,248.2V254.2M138.0,248.2h14.3M138.0,254.2h14.3M149.8,212.5V220.5M142.7,212.5h14.3M142.7,220.5h14.3M154.9,176.6V184.6M147.8,176.6h14.3M147.8,184.6h14.3M160.6,140.3V148.3M153.4,140.3h14.3M153.4,148.3h14.3M166.7,107.1V115.1M159.6,107.1h14.3M159.6,115.1h14.3M173.5,79.8V87.8M166.3,79.8h14.3M166.3,87.8h14.3M180.9,67.5V75.5M173.7,67.5h14.3M173.7,75.5h14.3M189.0,67.5V75.5M181.9,67.5h14.3M181.9,75.5h14.3M198.0,79.8V87.8M190.8,79.8h14.3M190.8,87.8h14.3M207.8,98.4V106.4M200.6,98.4h14.3M200.6,106.4h14.3M218.5,125.6V135.6M211.4,125.6h14.3M211.4,135.6h14.3M230.4,161.2V173.2M223.2,161.2h14.3M223.2,173.2h14.3M243.3,201.0V215.0M236.2,201.0h14.3M236.2,215.0h14.3M257.6,238.6V254.6M250.4,238.6h14.3M250.4,254.6h14.3M273.2,258.7V274.7M266.1,258.7h14.3M266.1,274.7h14.3M290.4,260.2V278.2M283.3,260.2h14.3M283.3,278.2h14.3M309.3,244.4V271.6M302.1,244.4h14.3M302.1,271.6h14.3M329.9,240.9V274.3M322.8,240.9h14.3M322.8,274.3h14.3M352.7,296.0V324.8M345.5,296.0h14.3M345.5,324.8h14.3M377.6,387.6V399.6M370.4,387.6h14.3M370.4,399.6h14.3M405.0,462.1V468.1M397.8,462.1h14.3M397.8,468.1h14.3" fill="none" stroke="#0a0a0a" stroke-width="2.5"/>
<rect x="98.8" y="453.9" width="18.9" height="18.9" rx="3" fill="#0a0a0a"/><rect x="99.9" y="435.6" width="18.9" height="18.9" rx="3" fill="#0a0a0a"/><rect x="101.0" y="415.6" width="18.9" height="18.9" rx="3" fill="#0a0a0a"/><rect x="102.3" y="392.6" width="18.9" height="18.9" rx="3" fill="#0a0a0a"/><rect x="103.7" y="373.6" width="18.9" height="18.9" rx="3" fill="#0a0a0a"/><rect x="105.2" y="360.6" width="18.9" height="18.9" rx="3" fill="#0a0a0a"/><rect x="106.9" y="352.6" width="18.9" height="18.9" rx="3" fill="#0a0a0a"/><rect x="108.7" y="347.6" width="18.9" height="18.9" rx="3" fill="#0a0a0a"/><rect x="110.7" y="344.1" width="18.9" height="18.9" rx="3" fill="#0a0a0a"/><rect x="112.9" y="341.4" width="18.9" height="18.9" rx="3" fill="#0a0a0a"/><rect x="115.3" y="338.9" width="18.9" height="18.9" rx="3" fill="#0a0a0a"/><rect x="118.0" y="333.4" width="18.9" height="18.9" rx="3" fill="#0a0a0a"/><rect x="120.9" y="327.1" width="18.9" height="18.9" rx="3" fill="#0a0a0a"/><rect x="124.1" y="315.2" width="18.9" height="18.9" rx="3" fill="#0a0a0a"/><rect x="127.6" y="297.4" width="18.9" height="18.9" rx="3" fill="#0a0a0a"/><rect x="131.5" y="272.8" width="18.9" height="18.9" rx="3" fill="#0a0a0a"/><rect x="135.7" y="241.8" width="18.9" height="18.9" rx="3" fill="#0a0a0a"/><rect x="140.4" y="207.1" width="18.9" height="18.9" rx="3" fill="#0a0a0a"/><rect x="145.5" y="171.2" width="18.9" height="18.9" rx="3" fill="#0a0a0a"/><rect x="151.1" y="134.9" width="18.9" height="18.9" rx="3" fill="#0a0a0a"/><rect x="157.3" y="101.6" width="18.9" height="18.9" rx="3" fill="#0a0a0a"/><rect x="164.0" y="74.3" width="18.9" height="18.9" rx="3" fill="#0a0a0a"/><rect x="171.4" y="62.0" width="18.9" height="18.9" rx="3" fill="#0a0a0a"/><rect x="179.6" y="62.0" width="18.9" height="18.9" rx="3" fill="#0a0a0a"/><rect x="188.5" y="74.3" width="18.9" height="18.9" rx="3" fill="#0a0a0a"/><rect x="198.3" y="93.0" width="18.9" height="18.9" rx="3" fill="#0a0a0a"/><rect x="209.1" y="121.1" width="18.9" height="18.9" rx="3" fill="#0a0a0a"/><rect x="220.9" y="157.8" width="18.9" height="18.9" rx="3" fill="#0a0a0a"/><rect x="233.9" y="198.6" width="18.9" height="18.9" rx="3" fill="#0a0a0a"/><rect x="248.1" y="237.2" width="18.9" height="18.9" rx="3" fill="#0a0a0a"/><rect x="263.8" y="257.2" width="18.9" height="18.9" rx="3" fill="#0a0a0a"/><rect x="281.0" y="259.8" width="18.9" height="18.9" rx="3" fill="#0a0a0a"/><rect x="299.8" y="248.6" width="18.9" height="18.9" rx="3" fill="#0a0a0a"/><rect x="320.5" y="248.2" width="18.9" height="18.9" rx="3" fill="#0a0a0a"/><rect x="343.2" y="300.9" width="18.9" height="18.9" rx="3" fill="#0a0a0a"/><rect x="368.1" y="384.2" width="18.9" height="18.9" rx="3" fill="#0a0a0a"/><rect x="395.5" y="455.7" width="18.9" height="18.9" rx="3" fill="#0a0a0a"/><rect x="425.6" y="476.2" width="18.9" height="18.9" rx="3" fill="#0a0a0a"/><rect x="458.6" y="478.2" width="18.9" height="18.9" rx="3" fill="#0a0a0a"/><rect x="494.8" y="478.9" width="18.9" height="18.9" rx="3" fill="#0a0a0a"/><rect x="534.5" y="478.4" width="18.9" height="18.9" rx="3" fill="#0a0a0a"/><rect x="578.2" y="478.6" width="18.9" height="18.9" rx="3" fill="#0a0a0a"/><rect x="626.1" y="478.6" width="18.9" height="18.9" rx="3" fill="#0a0a0a"/><rect x="678.7" y="478.6" width="18.9" height="18.9" rx="3" fill="#0a0a0a"/>
<path d="M113.1,378.3V390.3M106.0,378.3h14.3M106.0,390.3h14.3M114.7,361.0V373.0M107.5,361.0h14.3M107.5,373.0h14.3M116.3,348.0V360.0M109.2,348.0h14.3M109.2,360.0h14.3M118.2,339.0V351.0M111.0,339.0h14.3M111.0,351.0h14.3M120.2,332.0V344.0M113.0,332.0h14.3M113.0,344.0h14.3M122.4,325.0V337.0M115.2,325.0h14.3M115.2,337.0h14.3M124.8,319.0V331.0M117.6,319.0h14.3M117.6,331.0h14.3M127.4,314.0V326.0M120.3,314.0h14.3M120.3,326.0h14.3M130.4,309.0V321.0M123.2,309.0h14.3M123.2,321.0h14.3M133.6,303.0V317.0M126.4,303.0h14.3M126.4,317.0h14.3M137.1,296.0V312.0M129.9,296.0h14.3M129.9,312.0h14.3M140.9,287.2V305.2M133.8,287.2h14.3M133.8,305.2h14.3M145.2,272.9V292.9M138.0,272.9h14.3M138.0,292.9h14.3M149.8,255.7V276.7M142.7,255.7h14.3M142.7,276.7h14.3M154.9,236.0V258.0M147.8,236.0h14.3M147.8,258.0h14.3M160.6,217.3V239.3M153.4,217.3h14.3M153.4,239.3h14.3M166.7,198.5V221.5M159.6,198.5h14.3M159.6,221.5h14.3M173.5,179.2V203.2M166.3,179.2h14.3M166.3,203.2h14.3M180.9,164.0V188.0M173.7,164.0h14.3M173.7,188.0h14.3M189.0,153.0V177.0M181.9,153.0h14.3M181.9,177.0h14.3M198.0,145.4V171.4M190.8,145.4h14.3M190.8,171.4h14.3M207.8,142.4V174.4M200.6,142.4h14.3M200.6,174.4h14.3M218.5,142.2V181.8M211.4,142.2h14.3M211.4,181.8h14.3M230.4,146.8V192.2M223.2,146.8h14.3M223.2,192.2h14.3M243.3,155.3V205.3M236.2,155.3h14.3M236.2,205.3h14.3M257.6,167.5V221.1M250.4,167.5h14.3M250.4,221.1h14.3M273.2,182.5V240.1M266.1,182.5h14.3M266.1,240.1h14.3M290.4,199.6V254.2M283.3,199.6h14.3M283.3,254.2h14.3M309.3,216.6V268.6M302.1,216.6h14.3M302.1,268.6h14.3M329.9,235.9V279.1M322.8,235.9h14.3M322.8,279.1h14.3M352.7,256.5V297.5M345.5,256.5h14.3M345.5,297.5h14.3M377.6,285.5V325.9M370.4,285.5h14.3M370.4,325.9h14.3M405.0,329.8V361.6M397.8,329.8h14.3M397.8,361.6h14.3" fill="none" stroke="#ff0a0a" stroke-width="2.5"/>
<path d="M106.0,454.4h4.6l7.1,14.4l-1.8,3.8h-15.2l-1.8,-3.8zM107.0,439.9h4.6l7.1,14.4l-1.8,3.8h-15.2l-1.8,-3.8zM108.2,419.5h4.6l7.1,14.4l-1.8,3.8h-15.2l-1.8,-3.8zM109.5,395.7h4.6l7.1,14.4l-1.8,3.8h-15.2l-1.8,-3.8zM110.8,375.2h4.6l7.1,14.4l-1.8,3.8h-15.2l-1.8,-3.8zM112.4,357.9h4.6l7.1,14.4l-1.8,3.8h-15.2l-1.8,-3.8zM114.0,344.9h4.6l7.1,14.4l-1.8,3.8h-15.2l-1.8,-3.8zM115.9,335.9h4.6l7.1,14.4l-1.8,3.8h-15.2l-1.8,-3.8zM117.9,328.9h4.6l7.1,14.4l-1.8,3.8h-15.2l-1.8,-3.8zM120.1,321.9h4.6l7.1,14.4l-1.8,3.8h-15.2l-1.8,-3.8zM122.5,315.9h4.6l7.1,14.4l-1.8,3.8h-15.2l-1.8,-3.8zM125.1,310.9h4.6l7.1,14.4l-1.8,3.8h-15.2l-1.8,-3.8zM128.1,305.9h4.6l7.1,14.4l-1.8,3.8h-15.2l-1.8,-3.8zM131.3,300.9h4.6l7.1,14.4l-1.8,3.8h-15.2l-1.8,-3.8zM134.8,294.9h4.6l7.1,14.4l-1.8,3.8h-15.2l-1.8,-3.8zM138.6,287.1h4.6l7.1,14.4l-1.8,3.8h-15.2l-1.8,-3.8zM142.9,273.8h4.6l7.1,14.4l-1.8,3.8h-15.2l-1.8,-3.8zM147.5,257.1h4.6l7.1,14.4l-1.8,3.8h-15.2l-1.8,-3.8zM152.6,237.9h4.6l7.1,14.4l-1.8,3.8h-15.2l-1.8,-3.8zM158.3,219.2h4.6l7.1,14.4l-1.8,3.8h-15.2l-1.8,-3.8zM164.4,200.9h4.6l7.1,14.4l-1.8,3.8h-15.2l-1.8,-3.8zM171.2,182.1h4.6l7.1,14.4l-1.8,3.8h-15.2l-1.8,-3.8zM178.6,166.9h4.6l7.1,14.4l-1.8,3.8h-15.2l-1.8,-3.8zM186.7,155.9h4.6l7.1,14.4l-1.8,3.8h-15.2l-1.8,-3.8zM195.7,149.3h4.6l7.1,14.4l-1.8,3.8h-15.2l-1.8,-3.8zM205.5,149.3h4.6l7.1,14.4l-1.8,3.8h-15.2l-1.8,-3.8zM216.2,152.9h4.6l7.1,14.4l-1.8,3.8h-15.2l-1.8,-3.8zM228.1,160.4h4.6l7.1,14.4l-1.8,3.8h-15.2l-1.8,-3.8zM241.0,171.2h4.6l7.1,14.4l-1.8,3.8h-15.2l-1.8,-3.8zM255.3,185.2h4.6l7.1,14.4l-1.8,3.8h-15.2l-1.8,-3.8zM270.9,202.2h4.6l7.1,14.4l-1.8,3.8h-15.2l-1.8,-3.8zM288.1,217.8h4.6l7.1,14.4l-1.8,3.8h-15.2l-1.8,-3.8zM307.0,233.5h4.6l7.1,14.4l-1.8,3.8h-15.2l-1.8,-3.8zM327.6,248.4h4.6l7.1,14.4l-1.8,3.8h-15.2l-1.8,-3.8zM350.4,267.9h4.6l7.1,14.4l-1.8,3.8h-15.2l-1.8,-3.8zM375.3,296.6h4.6l7.1,14.4l-1.8,3.8h-15.2l-1.8,-3.8zM402.7,336.6h4.6l7.1,14.4l-1.8,3.8h-15.2l-1.8,-3.8zM432.7,389.6h4.6l7.1,14.4l-1.8,3.8h-15.2l-1.8,-3.8zM465.7,436.9h4.6l7.1,14.4l-1.8,3.8h-15.2l-1.8,-3.8zM501.9,465.9h4.6l7.1,14.4l-1.8,3.8h-15.2l-1.8,-3.8zM541.7,475.1h4.6l7.1,14.4l-1.8,3.8h-15.2l-1.8,-3.8zM585.3,475.6h4.6l7.1,14.4l-1.8,3.8h-15.2l-1.8,-3.8z" fill="#ff0a0a"/>
<path d="M108.3,458.6 L109.3,435.7 L110.5,412.5 L111.8,381.5 L113.1,355.7 L114.7,335.1 L116.3,316.6 L118.2,297.5" fill="none" stroke="#2947f8" stroke-width="2.7"/>
<path d="M108.3,455.6V461.6M100.7,455.6h15.2M100.7,461.6h15.2M109.3,431.7V439.7M101.7,431.7h15.2M101.7,439.7h15.2M110.5,407.5V417.5M102.9,407.5h15.2M102.9,417.5h15.2M111.8,375.5V387.5M104.2,375.5h15.2M104.2,387.5h15.2M113.1,348.7V362.7M105.5,348.7h15.2M105.5,362.7h15.2M114.7,328.1V342.1M107.1,328.1h15.2M107.1,342.1h15.2M116.3,309.6V323.6M108.7,309.6h15.2M108.7,323.6h15.2M118.2,290.5V304.5M110.6,290.5h15.2M110.6,304.5h15.2M120.2,275.7V289.7M112.6,275.7h15.2M112.6,289.7h15.2M122.4,260.2V274.2M114.8,260.2h15.2M114.8,274.2h15.2M124.8,246.2V260.2M117.2,246.2h15.2M117.2,260.2h15.2M127.4,230.4V244.4M119.8,230.4h15.2M119.8,244.4h15.2M130.4,211.2V226.8M122.8,211.2h15.2M122.8,226.8h15.2M133.6,188.6V204.2M126.0,188.6h15.2M126.0,204.2h15.2M137.1,165.0V180.6M129.5,165.0h15.2M129.5,180.6h15.2M140.9,139.5V155.1M133.3,139.5h15.2M133.3,155.1h15.2M145.2,110.8V126.4M137.6,110.8h15.2M137.6,126.4h15.2M149.8,84.1V99.7M142.2,84.1h15.2M142.2,99.7h15.2M154.9,61.1V75.1M147.3,61.1h15.2M147.3,75.1h15.2M160.6,46.5V56.5M153.0,46.5h15.2M153.0,56.5h15.2M166.7,40.3V48.3M159.1,40.3h15.2M159.1,48.3h15.2M173.5,44.6V52.6M165.9,44.6h15.2M165.9,52.6h15.2M180.9,61.1V71.1M173.3,61.1h15.2M173.3,71.1h15.2M189.0,91.1V103.1M181.4,91.1h15.2M181.4,103.1h15.2M198.0,133.9V143.9M190.4,133.9h15.2M190.4,143.9h15.2M207.8,186.5V194.5M200.2,186.5h15.2M200.2,194.5h15.2M218.5,243.6V249.6M210.9,243.6h15.2M210.9,249.6h15.2" fill="none" stroke="#2947f8" stroke-width="2.5"/>
<circle cx="108.3" cy="458.6" r="9.6" fill="#2947f8"/><circle cx="109.3" cy="435.7" r="9.6" fill="#2947f8"/><circle cx="110.5" cy="412.5" r="9.6" fill="#2947f8"/><circle cx="111.8" cy="381.5" r="9.6" fill="#2947f8"/><circle cx="113.1" cy="355.7" r="9.6" fill="#2947f8"/><circle cx="114.7" cy="335.1" r="9.6" fill="#2947f8"/><circle cx="116.3" cy="316.6" r="9.6" fill="#2947f8"/><circle cx="118.2" cy="297.5" r="9.6" fill="#2947f8"/><circle cx="120.2" cy="282.7" r="9.6" fill="#2947f8"/><circle cx="122.4" cy="267.2" r="9.6" fill="#2947f8"/><circle cx="124.8" cy="253.2" r="9.6" fill="#2947f8"/><circle cx="127.4" cy="237.4" r="9.6" fill="#2947f8"/><circle cx="130.4" cy="219.0" r="9.6" fill="#2947f8"/><circle cx="133.6" cy="196.4" r="9.6" fill="#2947f8"/><circle cx="137.1" cy="172.8" r="9.6" fill="#2947f8"/><circle cx="140.9" cy="147.3" r="9.6" fill="#2947f8"/><circle cx="145.2" cy="118.6" r="9.6" fill="#2947f8"/><circle cx="149.8" cy="91.9" r="9.6" fill="#2947f8"/><circle cx="154.9" cy="68.1" r="9.6" fill="#2947f8"/><circle cx="160.6" cy="51.5" r="9.6" fill="#2947f8"/><circle cx="166.7" cy="44.3" r="9.6" fill="#2947f8"/><circle cx="173.5" cy="48.6" r="9.6" fill="#2947f8"/><circle cx="180.9" cy="66.1" r="9.6" fill="#2947f8"/><circle cx="189.0" cy="97.1" r="9.6" fill="#2947f8"/><circle cx="198.0" cy="138.9" r="9.6" fill="#2947f8"/><circle cx="207.8" cy="190.5" r="9.6" fill="#2947f8"/><circle cx="218.5" cy="246.6" r="9.6" fill="#2947f8"/><circle cx="230.4" cy="303.7" r="9.6" fill="#2947f8"/><circle cx="243.3" cy="359.4" r="9.6" fill="#2947f8"/><circle cx="257.6" cy="407.6" r="9.6" fill="#2947f8"/><circle cx="273.2" cy="442.7" r="9.6" fill="#2947f8"/><circle cx="290.4" cy="462.3" r="9.6" fill="#2947f8"/><circle cx="309.3" cy="467.9" r="9.6" fill="#2947f8"/>
<path d="M643.2,294.1H694.3" stroke="#2947f8" stroke-width="2.1"/>
<path d="M643.2,358.5H694.3" stroke="#ff0a0a" stroke-width="2.1"/>
<path d="M643.2,422.2H694.3" stroke="#0a0a0a" stroke-width="2.1"/>
<circle cx="668.9" cy="294.1" r="9.6" fill="#2947f8"/>
<path d="M666.9,350.2h4.6l7.1,14.4l-1.8,3.8h-15.2l-1.8,-3.8z" fill="#ff0a0a"/>
<rect x="659.5" y="412.9" width="18.9" height="18.9" rx="3" fill="#0a0a0a"/>
<text x="72.4" y="501.1" text-anchor="end" font-size="35.5" font-weight="bold" font-family="Liberation Sans, sans-serif" fill="#0a0a0a">0</text>
<text x="72.4" y="342.6" text-anchor="end" font-size="35.5" font-weight="bold" font-family="Liberation Sans, sans-serif" fill="#0a0a0a">2</text>
<text x="72.4" y="184.0" text-anchor="end" font-size="35.5" font-weight="bold" font-family="Liberation Sans, sans-serif" fill="#0a0a0a">4</text>
<text x="72.4" y="25.5" text-anchor="end" font-size="35.5" font-weight="bold" font-family="Liberation Sans, sans-serif" fill="#0a0a0a">6</text>
<text x="97.6" y="548.9" text-anchor="middle" font-size="35.5" font-weight="bold" font-family="Liberation Sans, sans-serif" fill="#0a0a0a">0</text>
<text x="382.8" y="548.9" text-anchor="middle" font-size="35.5" font-weight="bold" font-family="Liberation Sans, sans-serif" fill="#0a0a0a">10</text>
<text x="667.9" y="548.9" text-anchor="middle" font-size="35.5" font-weight="bold" font-family="Liberation Sans, sans-serif" fill="#0a0a0a">20</text>
<text x="455.5" y="604.3" text-anchor="middle" font-size="39.5" font-weight="bold" font-family="Liberation Sans, sans-serif" fill="#0a0a0a">Diameter (µm)</text>
<text transform="translate(29,250.9) rotate(-90)" text-anchor="middle" font-size="39.8" font-weight="bold" font-family="Liberation Sans, sans-serif" fill="#0a0a0a">Volume (%)</text>
<text x="722.5" y="307.6" font-size="38.9" font-family="Liberation Sans, sans-serif" fill="#0a0a0a">Bud</text>
<text x="722.5" y="371.4" font-size="38.9" font-family="Liberation Sans, sans-serif" fill="#0a0a0a">BDP</text>
<text x="722.5" y="435.3" font-size="38.9" font-family="Liberation Sans, sans-serif" fill="#0a0a0a">FP</text>
</svg>
</body></html>
